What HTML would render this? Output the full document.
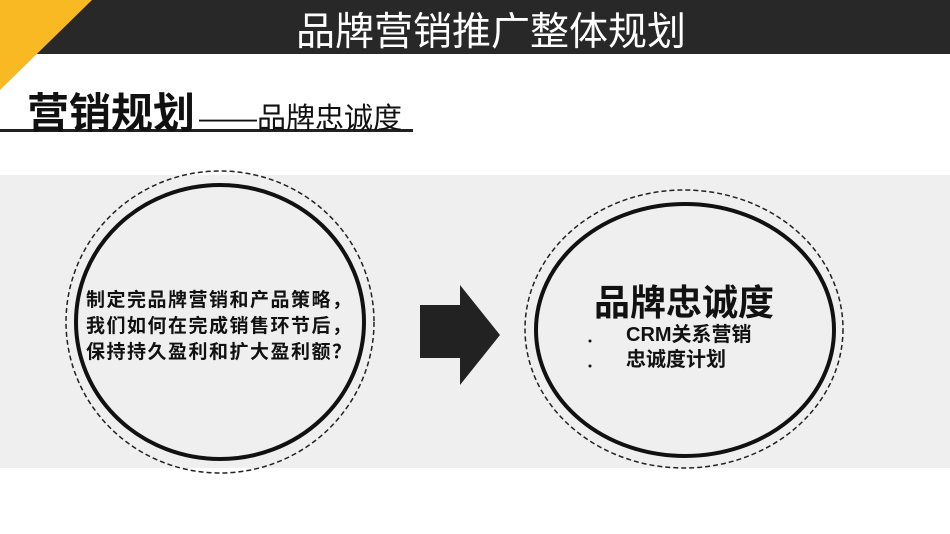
<html><head><style>
body{margin:0;width:950px;height:534px;position:relative;background:#fff;overflow:hidden;font-family:"Liberation Sans","Noto Sans CJK SC",sans-serif}
.t{position:absolute;white-space:nowrap}
</style></head><body>
<svg width="950" height="534" style="position:absolute;left:0;top:0">
<rect x="0" y="0" width="950" height="54" fill="#282828"/>
<polygon points="0,0 92,0 0,90" fill="#f9b922"/>
<rect x="0" y="129" width="413" height="3" fill="#222"/>
<rect x="0" y="175" width="950" height="293" fill="#efefef"/>
<ellipse cx="220" cy="322" rx="154" ry="151" fill="none" stroke="#222" stroke-width="1.5" stroke-dasharray="5,3"/>
<ellipse cx="220" cy="322" rx="144" ry="137" fill="none" stroke="#111" stroke-width="4"/>
<ellipse cx="684" cy="329" rx="159" ry="139" fill="none" stroke="#222" stroke-width="1.5" stroke-dasharray="5,3"/>
<ellipse cx="685" cy="330" rx="149" ry="126" fill="none" stroke="#111" stroke-width="4"/>
<polygon points="420,305 460,305 460,285 500,335 460,385 460,358 420,358" fill="#222"/>
<circle cx="590" cy="341" r="1.5" fill="#111"/>
<circle cx="590" cy="366" r="1.5" fill="#111"/>
</svg>
<div class="t" style="left:296px;top:1px;font-size:39px;color:#fff">品牌营销推广整体规划</div>
<div class="t" style="left:27px;top:80px;font-size:42px;font-weight:bold;color:#111">营销规划<span style="font-weight:normal;font-size:29px;position:relative;left:4px">——品牌忠诚度</span></div>
<div class="t" style="left:86px;top:288px;font-size:19px;letter-spacing:1.5px;font-weight:bold;line-height:26px;color:#111">制定完品牌营销和产品策略，<br>我们如何在完成销售环节后，<br>保持持久盈利和扩大盈利额？</div>
<div class="t" style="left:594px;top:274px;font-size:36px;font-weight:bold;color:#111">品牌忠诚度</div>
<div class="t" style="left:626px;top:323px;font-size:20px;font-weight:bold;line-height:25px;color:#111">CRM关系营销<br>忠诚度计划</div>
</body></html>
